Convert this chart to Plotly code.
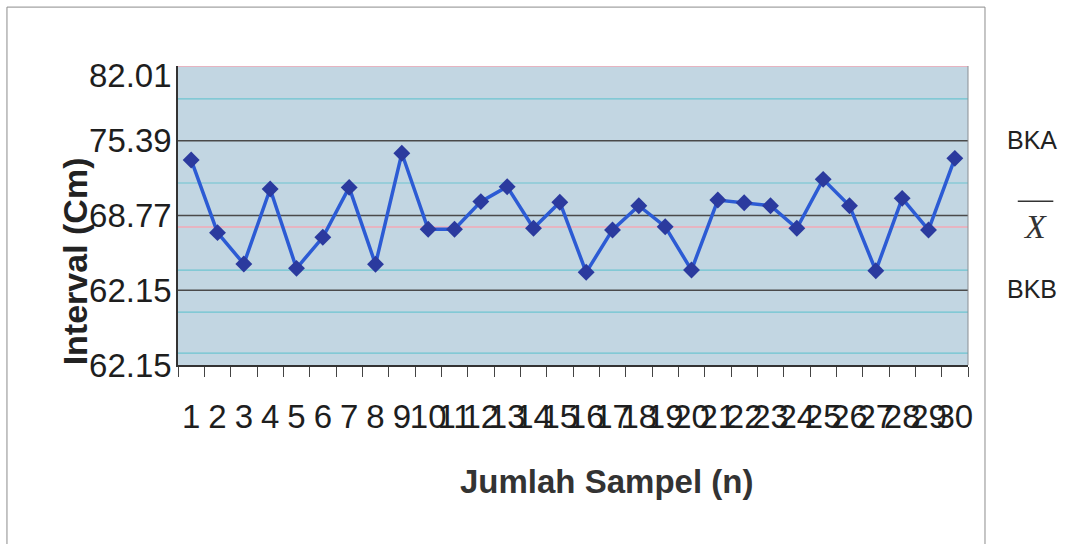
import plotly.graph_objects as go

# ---- data ----
samples = [str(i) for i in range(1, 31)]
interval = [73.69, 67.25, 64.48, 71.12, 64.09, 66.84, 71.26, 64.45, 74.28, 67.55,
            67.55, 70.00, 71.32, 67.64, 69.95, 63.74, 67.49, 69.64, 67.78, 63.94,
            70.14, 69.90, 69.64, 67.64, 71.97, 69.64, 63.88, 70.29, 67.49, 73.83]

y_tickvals = [55.53, 62.15, 68.77, 75.39]
y_ticktext = ["62.15", "62.15", "68.77", "75.39"]
top_value = 82.01
top_label = "82.01"

control_values = [75.39, 68.77, 62.15]          # BKA, X-bar, BKB
control_labels = ["BKA", "", "BKB"]
cyan_lines = [79.09, 71.65, 63.94, 60.22, 56.59]
pink_lines = [67.75, 82.01]
y_range = [55.53, 82.01]

FONT = "Liberation Sans, Arial, sans-serif"

fig = go.Figure()
fig.add_trace(go.Scatter(
    x=samples, y=interval, mode="lines+markers",
    line=dict(color="#2c5bd4", width=3.5),
    marker=dict(symbol="diamond", size=13, color="#2b3a9e"),
    showlegend=False, hoverinfo="skip",
))

shapes = []
for v in cyan_lines:
    shapes.append(dict(type="line", xref="paper", yref="y", x0=0, x1=1, y0=v, y1=v,
                       line=dict(color="#6cc4d0", width=1.2), layer="below"))
for v in pink_lines:
    shapes.append(dict(type="line", xref="paper", yref="y", x0=0, x1=1, y0=v, y1=v,
                       line=dict(color="#f2a8b6", width=1.5), layer="below"))
for v in control_values:
    shapes.append(dict(type="line", xref="paper", yref="y", x0=0, x1=1, y0=v, y1=v,
                       line=dict(color="#4a4a4a", width=1.3), layer="below"))
# right edge of plot area
shapes.append(dict(type="line", xref="paper", yref="paper", x0=1, x1=1, y0=0, y1=1,
                   line=dict(color="#8a8f94", width=1)))
# outer frame
fx0, fx1, fy1, fy0 = -0.2165, 1.0215, 1.197, -0.62
shapes.append(dict(type="line", xref="paper", yref="paper", x0=fx0, x1=fx0, y0=fy0, y1=fy1,
                   line=dict(color="#8c8c8c", width=1)))
shapes.append(dict(type="line", xref="paper", yref="paper", x0=fx1, x1=fx1, y0=fy0, y1=fy1,
                   line=dict(color="#8c8c8c", width=1)))
shapes.append(dict(type="line", xref="paper", yref="paper", x0=fx0, x1=fx1, y0=fy1, y1=fy1,
                   line=dict(color="#8c8c8c", width=1)))
# overline of X-bar
shapes.append(dict(type="line", xref="paper", yref="paper", x0=1.063, x1=1.108,
                   y0=0.548, y1=0.548, line=dict(color="#333333", width=1.5)))

annotations = [
    dict(text=top_label, xref="paper", yref="y", x=0, y=top_value, xanchor="right",
         yanchor="middle", xshift=-4, yshift=-9, showarrow=False,
         font=dict(family=FONT, size=33, color="#1e1e1e")),
    dict(text="<b>Interval (Cm)</b>", xref="paper", yref="paper", x=-0.131, y=0.345,
         textangle=-90, showarrow=False, xanchor="center", yanchor="middle",
         font=dict(family=FONT, size=34, color="#222222")),
    dict(text="<b>Jumlah Sampel (n)</b>", xref="paper", yref="paper", x=0.542, y=-0.39,
         showarrow=False, xanchor="center", yanchor="middle",
         font=dict(family=FONT, size=33, color="#333333")),
    dict(text="<i>X</i>", xref="paper", yref="y", x=1.085, y=control_values[1],
         yshift=-11, showarrow=False, xanchor="center", yanchor="middle",
         font=dict(family="Liberation Serif, Times New Roman, serif", size=34, color="#333333")),
]
for v, lab in zip(control_values, control_labels):
    if lab:
        annotations.append(dict(text=lab, xref="paper", yref="y", x=1.081, y=v, yshift=1,
                                showarrow=False, xanchor="center", yanchor="middle",
                                font=dict(family=FONT, size=25, color="#222222")))

fig.update_layout(
    width=1070, height=544,
    margin=dict(l=178, r=102, t=66, b=179),
    paper_bgcolor="white", plot_bgcolor="#c2d6e2",
    font=dict(family=FONT),
    shapes=shapes, annotations=annotations,
    xaxis=dict(type="category", tickmode="array", tickvals=samples, ticktext=samples,
               tickson="boundaries", ticks="outside", ticklen=10, tickcolor="#444444",
               tickangle=0, showgrid=False, zeroline=False, showline=True,
               linecolor="#333333", linewidth=1.5, ticklabelstandoff=22,
               tickfont=dict(family=FONT, size=33, color="#1e1e1e"),
               range=[-0.5, 29.5]),
    yaxis=dict(range=y_range, tickmode="array", tickvals=y_tickvals, ticktext=y_ticktext,
               ticks="", showgrid=False, zeroline=False, showline=True,
               linecolor="#333333", linewidth=1.5, ticklabelstandoff=-2,
               tickfont=dict(family=FONT, size=33, color="#1e1e1e")),
)

fig.write_html("out.html")
